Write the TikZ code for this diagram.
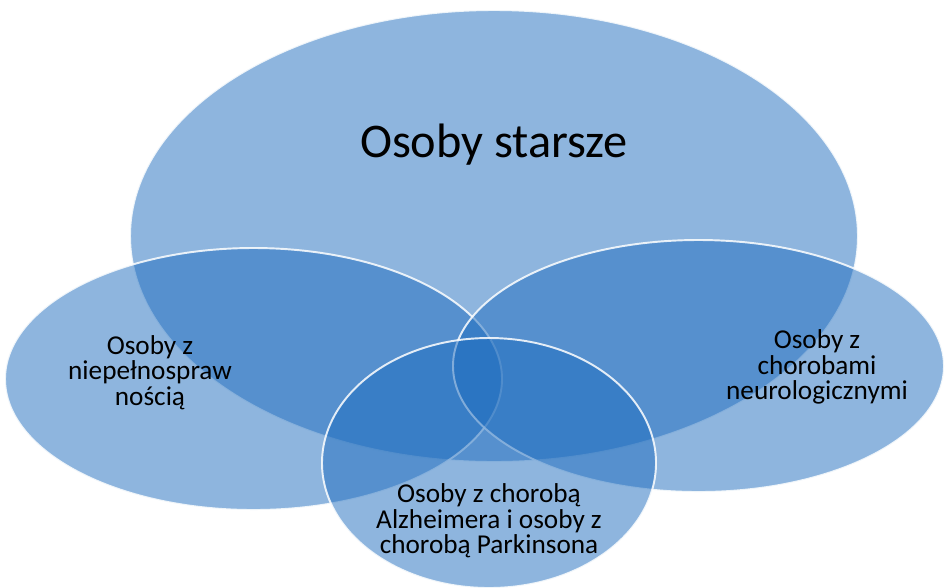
\documentclass[tikz,border=0pt]{standalone}
\usepackage{fontspec}
\setmainfont{Carlito}
\usetikzlibrary{positioning}
\definecolor{setblue}{RGB}{30, 108, 190}

\tikzset{
  venn/.style={fill=setblue, fill opacity=0.5, draw=white, draw opacity=0.85, line width=1.1pt},
  bigtext/.style={font=\fontsize{27.5}{32}\selectfont},
  settext/.style={align=center, font=\fontsize{15.5}{14.6}\selectfont}
}

\begin{document}
\begin{tikzpicture}[scale=1]
  \useasboundingbox (0, 0) rectangle (18.92, -11.74);

  % older people, disability, neurological, Alzheimer/Parkinson
  \foreach \cx/\cy/\rx/\ry in {9.88/-4.72/7.28/4.52, 5.07/-7.58/4.97/2.62,
                               13.97/-7.32/4.91/2.52, 9.78/-9.26/3.34/2.50} {
    \filldraw[venn] (\cx, \cy) ellipse [x radius=\rx, y radius=\ry];
  }

  \node[bigtext] (starsze) at (9.88, -2.90) {Osoby starsze};
  \node[settext] (niepelno) at (3.00, -7.45) {Osoby z\\niepełnospraw\\nością};
  \node[settext] (neuro) at (16.34, -7.34) {Osoby z\\chorobami\\neurologicznymi};
  \node[settext] (alzheimer) at (9.78, -10.42) {Osoby z chorobą\\Alzheimera i osoby z\\chorobą Parkinsona};

\end{tikzpicture}
\end{document}
